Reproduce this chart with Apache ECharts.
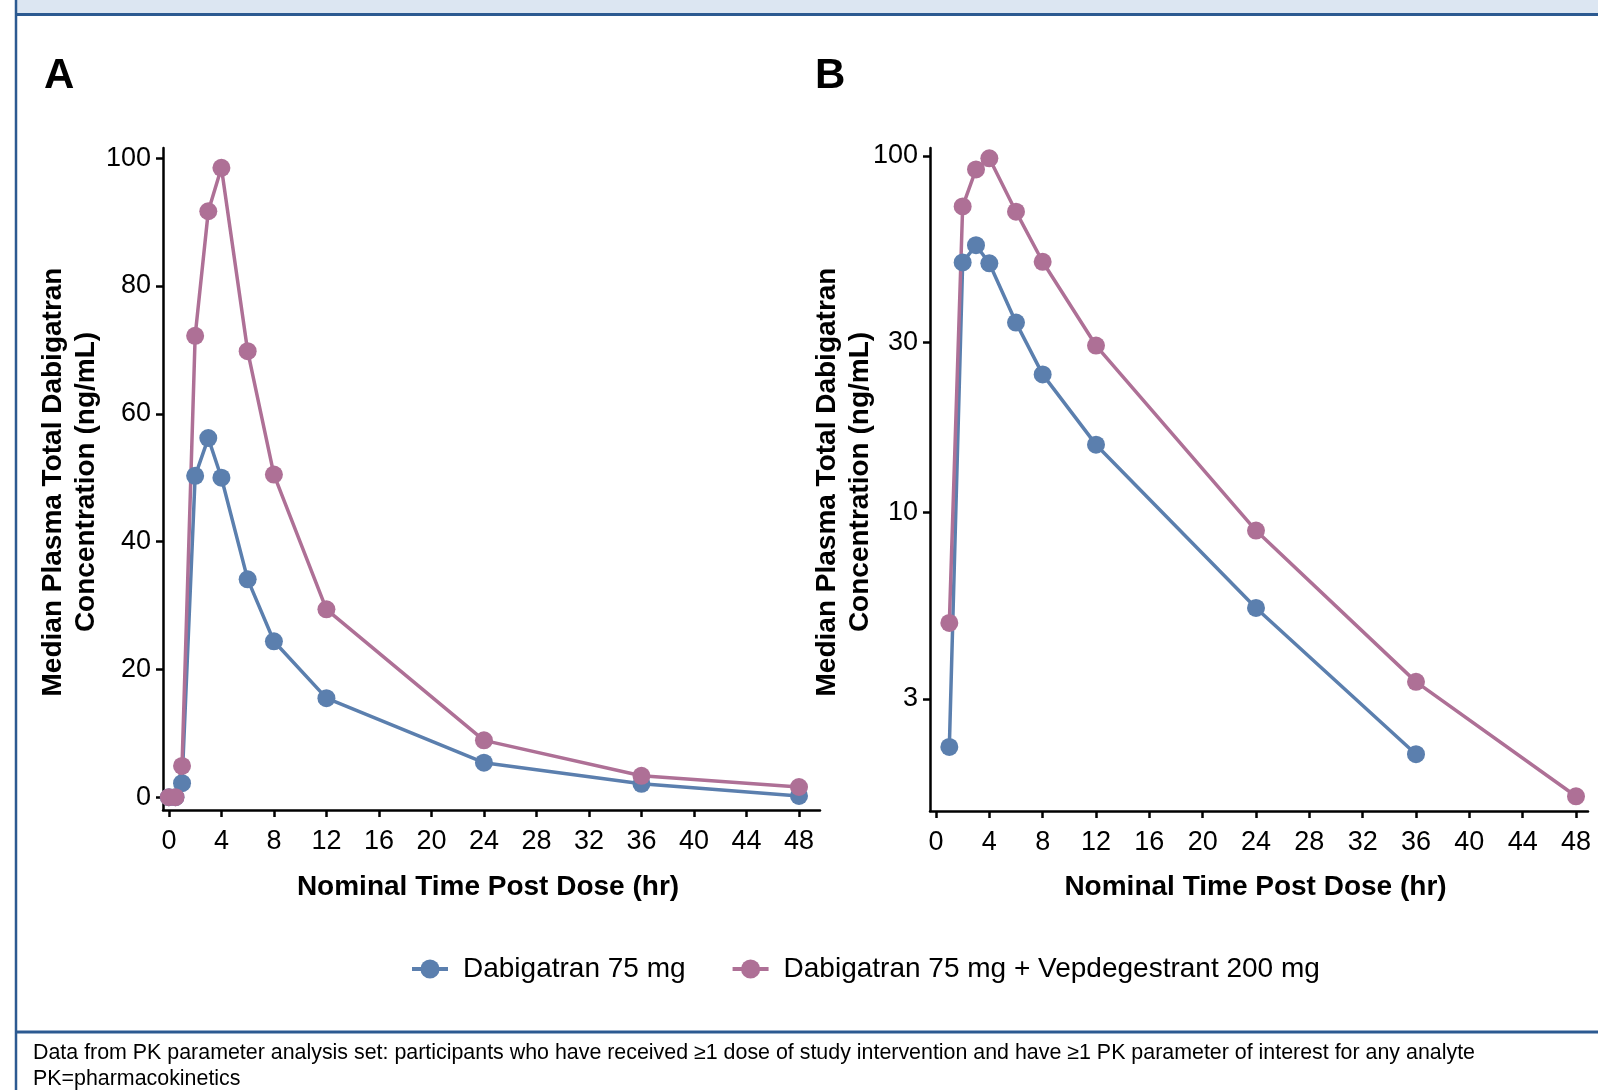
<!DOCTYPE html>
<html>
<head>
<meta charset="utf-8">
<script src="https://cdn.jsdelivr.net/npm/echarts@6/dist/echarts.min.js"></script>
<style>
  html, body { margin: 0; padding: 0; background: #fff; }
  #chart { width: 1598px; height: 1090px; }
</style>
</head>
<body>
<div id="chart"></div>
<script>
// nominal sampling times (hr)
const timePoints = [0, 0.5, 1, 2, 3, 4, 6, 8, 12, 24, 36, 48];
// median concentrations (ng/mL)
const dabiAlone = [0, 0, 2.2, 50.3, 56.2, 50.0, 34.1, 24.4, 15.5, 5.4, 2.1, 0.2];
const dabiVep = [0, 0, 4.9, 72.2, 91.7, 98.5, 69.8, 50.5, 29.4, 8.9, 3.35, 1.6];
const seriesNames = ['Dabigatran 75 mg', 'Dabigatran 75 mg + Vepdegestrant 200 mg'];
const colors = ['#5b7fae', '#ae7096'];
const xTicks = [0, 4, 8, 12, 16, 20, 24, 28, 32, 36, 40, 44, 48];
const yTicksLin = [0, 20, 40, 60, 80, 100];
const yTicksLog = [3, 10, 30, 100];

const logMin = 1.455;
const logMax = 105.3;

function pairs(vals, forLog) {
    let out = [];
    for (let i = 0; i < timePoints.length; i++) {
        if (forLog && vals[i] < logMin) continue;
        out.push([timePoints[i], vals[i]]);
    }
    return out;
}

const fontFam = '"Liberation Sans", Arial, sans-serif';

function xAxisSet(idx, max) {
    return {
        type: 'value',
        gridIndex: idx,
        min: -0.45,
        max: max,
        axisLine: { onZero: false, lineStyle: { color: '#000', width: 2.5 } },
        axisTick: { show: true, length: 7, lineStyle: { color: '#000', width: 2.5 }, customValues: xTicks },
        axisLabel: { color: '#000', fontSize: 27, fontFamily: fontFam, margin: 18, customValues: xTicks },
        splitLine: { show: false }
    };
}

function yAxisSet(idx, isLog) {
    let ticks = isLog ? yTicksLog : yTicksLin;
    let ax = {
        type: isLog ? 'log' : 'value',
        gridIndex: idx,
        min: isLog ? logMin : -2.0,
        max: isLog ? logMax : 101.6,
        axisLine: { show: true, onZero: false, lineStyle: { color: '#000', width: 2.5 } },
        axisTick: { show: true, length: 7, lineStyle: { color: '#000', width: 2.5 }, customValues: ticks },
        axisLabel: { color: '#000', fontSize: 27, fontFamily: fontFam, margin: 12, customValues: ticks },
        splitLine: { show: false },
        minorTick: { show: false }
    };
    if (isLog) ax.logBase = 10;
    return ax;
}

const chart = echarts.init(document.getElementById('chart'));

let lineStyle = function (c) {
    return {
        type: 'line',
        symbol: 'circle',
        symbolSize: 18,
        lineStyle: { color: c, width: 3.5 },
        itemStyle: { color: c },
        emphasis: { disabled: true },
        animation: false
    };
};

let series = [];
[dabiAlone, dabiVep].forEach(function (vals, i) {
    series.push(Object.assign(lineStyle(colors[i]), {
        name: seriesNames[i], xAxisIndex: 0, yAxisIndex: 0, data: pairs(vals, false)
    }));
    series.push(Object.assign(lineStyle(colors[i]), {
        name: seriesNames[i], xAxisIndex: 1, yAxisIndex: 1, data: pairs(vals, true)
    }));
});

const yTitle = 'Median Plasma Total Dabigatran\nConcentration (ng/mL)';
const xTitle = 'Nominal Time Post Dose (hr)';

const option = {
    backgroundColor: '#fff',
    animation: false,
    grid: [
        { left: 163, top: 148, width: 657, height: 662 },
        { left: 930, top: 148, width: 658, height: 663 }
    ],
    xAxis: [xAxisSet(0, 49.6), xAxisSet(1, 48.9)],
    yAxis: [yAxisSet(0, false), yAxisSet(1, true)],
    legend: {
        data: seriesNames,
        left: 405,
        top: 950,
        itemWidth: 36,
        itemHeight: 24,
        itemGap: 45,
        lineStyle: { width: 4 },
        textStyle: { color: '#000', fontSize: 28, fontFamily: fontFam, padding: [0, 0, 0, 10] },
        selectedMode: false
    },
    graphic: [
        // header strip
        { type: 'rect', shape: { x: 15, y: 0, width: 1583, height: 14 }, style: { fill: '#dce6f2' }, silent: true },
        { type: 'line', shape: { x1: 15, y1: 14.5, x2: 1598, y2: 14.5 }, style: { stroke: '#2c5a91', lineWidth: 3 }, silent: true },
        // left border
        { type: 'line', shape: { x1: 16, y1: 0, x2: 16, y2: 1090 }, style: { stroke: '#2c5a91', lineWidth: 2.5 }, silent: true },
        // footer separator
        { type: 'line', shape: { x1: 15, y1: 1032, x2: 1598, y2: 1032 }, style: { stroke: '#2c5a91', lineWidth: 3 }, silent: true },
        // panel letters
        { type: 'text', left: 44, top: 55, style: { text: 'A', font: 'bold 42px ' + fontFam, fill: '#000' } },
        { type: 'text', left: 815, top: 55, style: { text: 'B', font: 'bold 42px ' + fontFam, fill: '#000' } },
        // y axis titles
        {
            type: 'text', x: 69.5, y: 482, rotation: Math.PI / 2,
            style: { text: yTitle, font: 'bold 28px ' + fontFam, fill: '#000', align: 'center', verticalAlign: 'middle', lineHeight: 33 }
        },
        {
            type: 'text', x: 843.5, y: 482, rotation: Math.PI / 2,
            style: { text: yTitle, font: 'bold 28px ' + fontFam, fill: '#000', align: 'center', verticalAlign: 'middle', lineHeight: 33 }
        },
        // x axis titles
        {
            type: 'text', x: 488, y: 887,
            style: { text: xTitle, font: 'bold 28px ' + fontFam, fill: '#000', align: 'center', verticalAlign: 'middle' }
        },
        {
            type: 'text', x: 1255.5, y: 887,
            style: { text: xTitle, font: 'bold 28px ' + fontFam, fill: '#000', align: 'center', verticalAlign: 'middle' }
        },
        // footnotes
        {
            type: 'text', x: 33, y: 1053,
            style: { text: 'Data from PK parameter analysis set: participants who have received \u22651 dose of study intervention and have \u22651 PK parameter of interest for any analyte', font: '21.4px ' + fontFam, fill: '#000', verticalAlign: 'middle' }
        },
        {
            type: 'text', x: 33, y: 1079,
            style: { text: 'PK=pharmacokinetics', font: '21.4px ' + fontFam, fill: '#000', verticalAlign: 'middle' }
        }
    ],
    series: series
};

chart.setOption(option);
</script>
</body>
</html>
